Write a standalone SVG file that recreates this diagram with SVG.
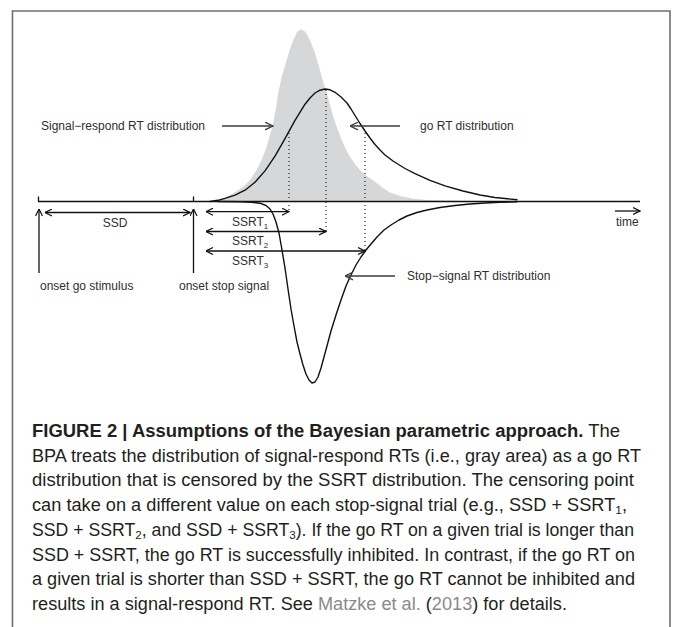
<svg xmlns="http://www.w3.org/2000/svg" width="673" height="627" viewBox="0 0 673 627">
<style>
.lbl{font-family:"Liberation Sans",Arial,sans-serif;font-size:12px;fill:#2e2e2e}
.cap{font-family:"Liberation Sans Narrow","Liberation Sans",Arial,sans-serif;font-size:17.5px;fill:#231f20}
.b{font-weight:bold}
.lnk{fill:#8a8a8a}
.ax{fill:none;stroke:#111;stroke-width:1.3}
.crv{fill:none;stroke:#111;stroke-width:1.4;stroke-linejoin:round;stroke-linecap:round}
.dot{fill:none;stroke:#222;stroke-width:1.2;stroke-dasharray:1 3}
.la{fill:none;stroke:#3c3c3c;stroke-width:1.4}
</style>
<defs>
<marker id="hb" viewBox="0 0 8 8" refX="7.5" refY="4" markerWidth="8" markerHeight="8" markerUnits="userSpaceOnUse" orient="auto-start-reverse"><path d="M0.5,0.5 L7.5,4 L0.5,7.5" fill="none" stroke="#111" stroke-width="1.2"/></marker>
<marker id="hg" viewBox="0 0 9 9" refX="8.5" refY="4.5" markerWidth="9" markerHeight="9" markerUnits="userSpaceOnUse" orient="auto-start-reverse"><path d="M0.5,0.7 L8.5,4.5 L0.5,8.3" fill="none" stroke="#3c3c3c" stroke-width="1.3"/></marker>
</defs>
<path d="M12.5,627 V11 H670 V627" fill="none" stroke="#6f6f6f" stroke-width="1.6"/>
<g id="signal-respond-area">
<path d="M210,201.5 L218,200 L226,197 L233,193.5 L243,187 L250,180 L256.7,170 L262,159 L266.7,146.7 L270,135 L273.3,123 L276,108 L278.3,93 L281.7,76.7 L286.7,60 L290,49 L293.3,40 L297,32 L301,29.3 L305,31.5 L308.3,36.7 L312,45 L315,53 L318.5,65 L321.7,76.7 L326.7,93 L333.3,116.7 L337.5,129 L341.7,140 L346,149.5 L350,156.7 L355,164 L360,170 L364,173.5 L368,177 L373.3,180.5 L378,184 L383,188 L390,192.5 L400,196 L413,198.8 L430,200.2 L463,201 L490,201.5 Z" fill="#d6d7d9"/>
</g>
<g id="axis">
<path class="ax" d="M38,201.5 H640 M38.5,196.5 V201.5 M193.5,196.5 V201.5"/>
</g>
<g id="go-rt-distribution">
<path class="crv" d="M210,201.5 L218,200.3 L225,198.3 L235,195.2 L245,190.2 L255,182.3 L265,170.9 L275,156.1 L285,138.6 L295,120.4 L305,104.2 L310,98 L315,93 L320,90.2 L325,89 L330,89.8 L335,92.3 L341,97 L347,103 L351,109 L355,115.5 L360,123.5 L365,131 L370,138 L375,144.5 L380,150 L385,155 L393,161 L405,168.5 L415,173.7 L430,180.3 L445,185.8 L463,191 L480,195 L495,197.5 L517,199.8"/>
</g>
<g id="stop-signal-rt-distribution">
<path class="crv" d="M218,201.5 L240,201.7 L252,202.2 L260,203.2 L266,205.5 L270,209 L273,214 L276,222 L279,233 L282,250 L285,268 L288,289 L291,309 L294,326 L297,342 L300,354 L303,365 L306,374 L309,380 L312,383 L315,382 L318,377 L321,368 L324,357 L327,346 L331,331 L336,315 L341,300 L346,286 L351,275 L356,265 L361,257 L366,250 L371,244 L377,237 L384,230 L391,225 L399,220 L407,216 L417,212.5 L427,210 L440,207.5 L455,205.5 L470,204 L485,203 L500,202.3 L517,201.8"/>
</g>
<g id="censoring-points">
<path class="dot" d="M289,133 V211 M326,90 V231 M365,133 V250"/>
</g>
<g id="connectors">
<path class="ax" d="M45,212.5 H190" marker-start="url(#hb)" marker-end="url(#hb)"/>
<path class="ax" d="M206,211.7 H289" marker-start="url(#hb)" marker-end="url(#hb)"/>
<path class="ax" d="M206,231.5 H326" marker-start="url(#hb)" marker-end="url(#hb)"/>
<path class="ax" d="M206,251 H365" marker-start="url(#hb)" marker-end="url(#hb)"/>
<path class="ax" d="M39,273 V209" marker-end="url(#hb)"/>
<path class="ax" d="M193.5,273 V209" marker-end="url(#hb)"/>
<path class="ax" d="M615,211 H640" marker-end="url(#hb)"/>
<path class="la" d="M222,126 H273" marker-end="url(#hg)"/>
<path class="la" d="M400,126 H350" marker-end="url(#hg)"/>
<path class="la" d="M395,276 H345" marker-end="url(#hg)"/>
</g>
<g id="labels">
<text class="lbl" x="41" y="129.5">Signal−respond RT distribution</text>
<text class="lbl" x="420" y="129.5">go RT distribution</text>
<text class="lbl" x="407" y="279.5">Stop−signal RT distribution</text>
<text class="lbl" x="115" y="226.5" text-anchor="middle">SSD</text>
<text class="lbl" x="232" y="225.5">SSRT<tspan font-size="8" dy="3">1</tspan></text>
<text class="lbl" x="232" y="245">SSRT<tspan font-size="8" dy="3">2</tspan></text>
<text class="lbl" x="232" y="264.5">SSRT<tspan font-size="8" dy="3">3</tspan></text>
<text class="lbl" x="40" y="289.5">onset go stimulus</text>
<text class="lbl" x="179" y="289.5">onset stop signal</text>
<text class="lbl" x="616" y="225.5" font-size="11">time</text>
</g>
<g id="caption">
<text class="cap" x="32" y="437" textLength="588" lengthAdjust="spacingAndGlyphs"><tspan class="b">FIGURE 2 | Assumptions of the Bayesian parametric approach.</tspan> The</text>
<text class="cap" x="32" y="461.7" textLength="609" lengthAdjust="spacingAndGlyphs">BPA treats the distribution of signal-respond RTs (i.e., gray area) as a go RT</text>
<text class="cap" x="32" y="486.4" textLength="602" lengthAdjust="spacingAndGlyphs">distribution that is censored by the SSRT distribution. The censoring point</text>
<text class="cap" x="32" y="511.1" textLength="595" lengthAdjust="spacingAndGlyphs">can take on a different value on each stop-signal trial (e.g., SSD + SSRT<tspan font-size="11.5" dy="3">1</tspan><tspan dy="-3">,</tspan></text>
<text class="cap" x="32" y="535.8" textLength="602" lengthAdjust="spacingAndGlyphs">SSD + SSRT<tspan font-size="11.5" dy="3">2</tspan><tspan dy="-3">, and SSD + SSRT</tspan><tspan font-size="11.5" dy="3">3</tspan><tspan dy="-3">). If the go RT on a given trial is longer than</tspan></text>
<text class="cap" x="32" y="560.5" textLength="603" lengthAdjust="spacingAndGlyphs">SSD + SSRT, the go RT is successfully inhibited. In contrast, if the go RT on</text>
<text class="cap" x="32" y="585.2" textLength="603" lengthAdjust="spacingAndGlyphs">a given trial is shorter than SSD + SSRT, the go RT cannot be inhibited and</text>
<text class="cap" x="32" y="609.9" textLength="535" lengthAdjust="spacingAndGlyphs">results in a signal-respond RT. See <tspan class="lnk">Matzke et al.</tspan> (<tspan class="lnk">2013</tspan>) for details.</text>
</g>
</svg>
